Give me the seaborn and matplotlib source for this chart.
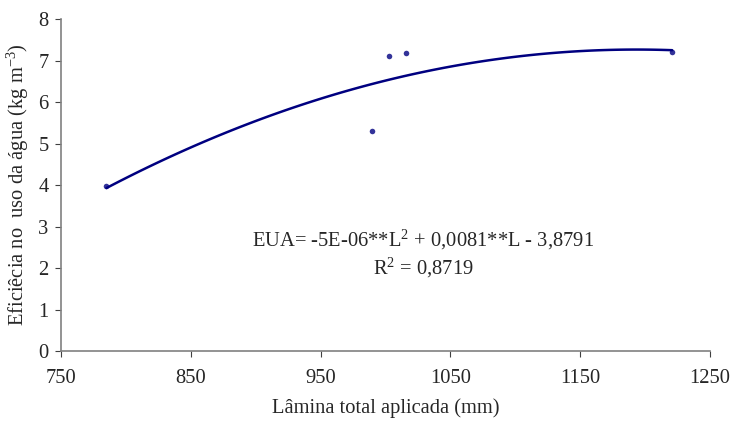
import matplotlib
matplotlib.use("Agg")
import matplotlib.pyplot as plt
import seaborn as sns
import pandas as pd

# data
lamina = [785, 990, 1003, 1016, 1221]
eua = [3.98, 5.30, 7.12, 7.19, 7.20]
x_ticks = [750, 850, 950, 1050, 1150, 1250]
y_ticks = [0, 1, 2, 3, 4, 5, 6, 7, 8]

df = pd.DataFrame({"lamina": lamina, "eua": eua})

sns.set_style("ticks")
plt.rcParams["font.family"] = ["Liberation Serif", "DejaVu Serif"]
plt.rcParams["mathtext.fontset"] = "custom"
plt.rcParams["mathtext.rm"] = "Liberation Serif"
plt.rcParams["mathtext.it"] = "Liberation Serif:italic"

fig, ax = plt.subplots(figsize=(7.31, 4.23), dpi=100)
fig.subplots_adjust(left=0.0835, right=0.971, top=0.955, bottom=0.17)

navy = "#000080"
fs = 14.8
sns.regplot(data=df, x="lamina", y="eua", order=2, ci=None, ax=ax,
            truncate=True,
            scatter_kws={"marker": "D", "s": 16, "color": navy, "linewidths": 0},
            line_kws={"color": navy, "lw": 1.8})

ax.set_xlim(750, 1250)
ax.set_ylim(0, 8)
ax.set_xticks(x_ticks)
ax.set_yticks(y_ticks)
ax.tick_params(labelsize=fs, length=4, color="#404040")
ax.tick_params(axis="x", pad=9)
ax.tick_params(axis="y", pad=5)

for s in ["top", "right"]:
    ax.spines[s].set_visible(False)
for s in ["left", "bottom"]:
    ax.spines[s].set_color("#808080")
    ax.spines[s].set_linewidth(1.2)

ax.set_xlabel("Lâmina total aplicada (mm)", fontsize=fs, labelpad=7)
ax.set_ylabel("Eficiêcia no  uso da água (kg m$^{-3}$)", fontsize=fs, labelpad=5)

ax.text(1029, 2.67, "EUA= -5E-06**L$^{2}$ + 0,0081**L - 3,8791", fontsize=fs,
        ha="center", va="center")
ax.text(1029, 2.0, "R$^{2}$ = 0,8719", fontsize=fs, ha="center", va="center")

plt.savefig("out.png", dpi=100)
